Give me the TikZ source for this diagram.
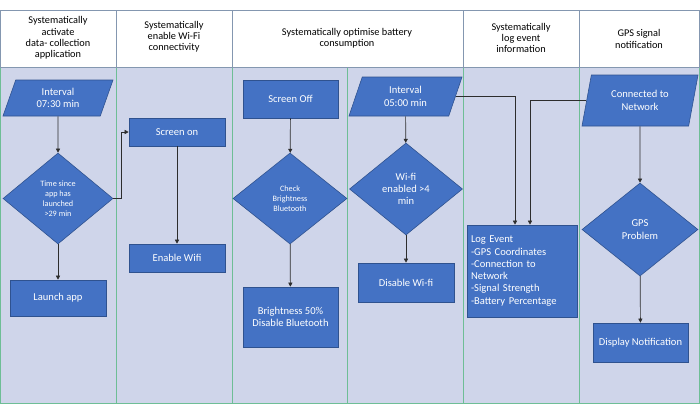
\documentclass[tikz,border=0pt]{standalone}
\usepackage{fontspec}
\setmainfont{Carlito}
\usetikzlibrary{arrows.meta, positioning, shapes.geometric, calc}

\definecolor{lanefill}{RGB}{207,213,234}
\definecolor{laneline}{RGB}{110,190,150}
\definecolor{headline}{RGB}{132,151,176}
\definecolor{stepblue}{RGB}{68,114,196}
\definecolor{stepedge}{RGB}{47,82,143}
\definecolor{flowgrey}{RGB}{45,45,45}

\tikzset{
    box/.style={rectangle, fill=stepblue, draw=stepedge, line width=0.5pt, text=white,
        align=center, inner sep=2pt, font=\fontsize{9}{10.5}\selectfont},
    iobox/.style={trapezium, trapezium stretches body, trapezium left angle=#1,
        trapezium right angle=180-#1, fill=stepblue, draw=stepedge, line width=0.5pt,
        text=white, align=center, inner sep=1pt, font=\fontsize{9}{10.5}\selectfont},
    decision/.style={diamond, fill=stepblue, draw=stepedge, line width=0.5pt, text=white,
        align=center, inner sep=0pt},
    flow/.style={draw=flowgrey, line width=0.6pt, -{Triangle[length=3.5pt,width=3.5pt]}},
    hdr/.style={align=center, font=\fontsize{8.8}{9.6}\selectfont}
}

\begin{document}
\begin{tikzpicture}[x=0.03cm, y=-0.03cm]
    \useasboundingbox (0,0) rectangle (700,413);

    % Swimlane bodies
    \foreach \xa/\xb in {0/116, 116/232, 232/347, 347/463, 463/579, 579/699} {
        \draw[fill=lanefill, draw=laneline, line width=0.6pt] (\xa,67) rectangle (\xb,403);
    }

    % Header cells
    \foreach \xa/\xb in {0/116, 116/232, 232/463, 463/579, 579/699} {
        \draw[fill=white, draw=headline, line width=0.6pt] (\xa,10) rectangle (\xb,67);
    }
    \node[hdr] (h1) at (58,38) {Systematically\\activate\\data- collection\\application};
    \node[hdr] (h2) at (174,36.5) {Systematically\\enable Wi-Fi\\connectivity};
    \node[hdr] (h3) at (347,38.5) {Systematically optimise battery\\consumption};
    \node[hdr] (h4) at (521,38) {Systematically\\log event\\information};
    \node[hdr] (h5) at (639,39) {GPS signal\\notification};

    % Lane 1: activate application
    \node[iobox=60, minimum width=3.3cm, minimum height=1.08cm] (int1) at (58,98) {Interval\\07:30 min};
    \node[decision, minimum width=3.3cm, minimum height=2.73cm,
        font=\fontsize{7}{8.5}\selectfont] (since) at (58,198.5) {Time since\\app has\\launched\\>29 min};
    \node[box, minimum width=2.88cm, minimum height=1.08cm] (launch) at (58,298) {Launch app};

    % Lane 2: Wi-Fi
    \node[box, minimum width=2.88cm, minimum height=0.84cm] (scron) at (177,132) {Screen on};
    \node[box, minimum width=2.88cm, minimum height=0.84cm] (wifion) at (177,258) {Enable Wifi};

    % Lane 3: battery
    \node[box, minimum width=2.85cm, minimum height=1.14cm] (scroff) at (290.5,99) {Screen Off};
    \node[decision, minimum width=3.42cm, minimum height=2.73cm,
        font=\fontsize{7}{8.5}\selectfont] (check) at (290,198.5) {Check\\Brightness\\Bluetooth};
    \node[box, minimum width=2.85cm, minimum height=1.8cm] (bright) at (290.5,317) {Brightness 50\%\\Disable Bluetooth};

    \node[iobox=59, minimum width=3.39cm, minimum height=1.17cm] (int2) at (405.5,96.5) {Interval\\05:00 min};
    \node[decision, minimum width=3.39cm, minimum height=2.76cm,
        font=\fontsize{9}{10.5}\selectfont] (wifichk) at (406,189) {Wi-fi\\enabled >4\\min};
    \node[box, minimum width=2.88cm, minimum height=1.17cm] (wifioff) at (406,282.5) {Disable Wi-fi};

    % Lane 4: log event
    \node[box, minimum width=3.3cm, minimum height=2.76cm, text width=3.06cm, align=left,
        inner xsep=0.12cm] (log) at (522,271)
        {Log Event\\-GPS Coordinates\\-Connection to\\Network\\-Signal Strength\\-Battery Percentage};

    % Lane 5: GPS
    \node[iobox=67, minimum width=3.48cm, minimum height=1.53cm] (conn) at (640,100.5) {Connected to\\Network};
    \node[decision, minimum width=3.48cm, minimum height=2.79cm,
        font=\fontsize{9}{10.5}\selectfont] (gps) at (640,229.5) {GPS\\Problem};
    \node[box, minimum width=2.85cm, minimum height=1.17cm] (notify) at (640.5,342.5) {Display Notification};

    % Connectors
    \draw[flow] (int1) -- (since);
    \draw[flow] (since) -- (launch);
    \draw[flow] (since.east) -- ++(8,0) |- (scron.west);
    \draw[flow] (scron) -- (wifion);
    \draw[flow] (scroff) -- (check);
    \draw[flow] (check) -- (bright);
    \draw[flow] (int2) -- (wifichk);
    \draw[flow] (wifichk) -- (wifioff);
    \draw[flow] (int2.east) -| ($(log.north)+(-7,0)$);
    \draw[flow] (conn.west) -| ($(log.north)+(8,0)$);
    \draw[flow] (conn) -- (gps);
    \draw[flow] (gps) -- (notify);
\end{tikzpicture}
\end{document}
